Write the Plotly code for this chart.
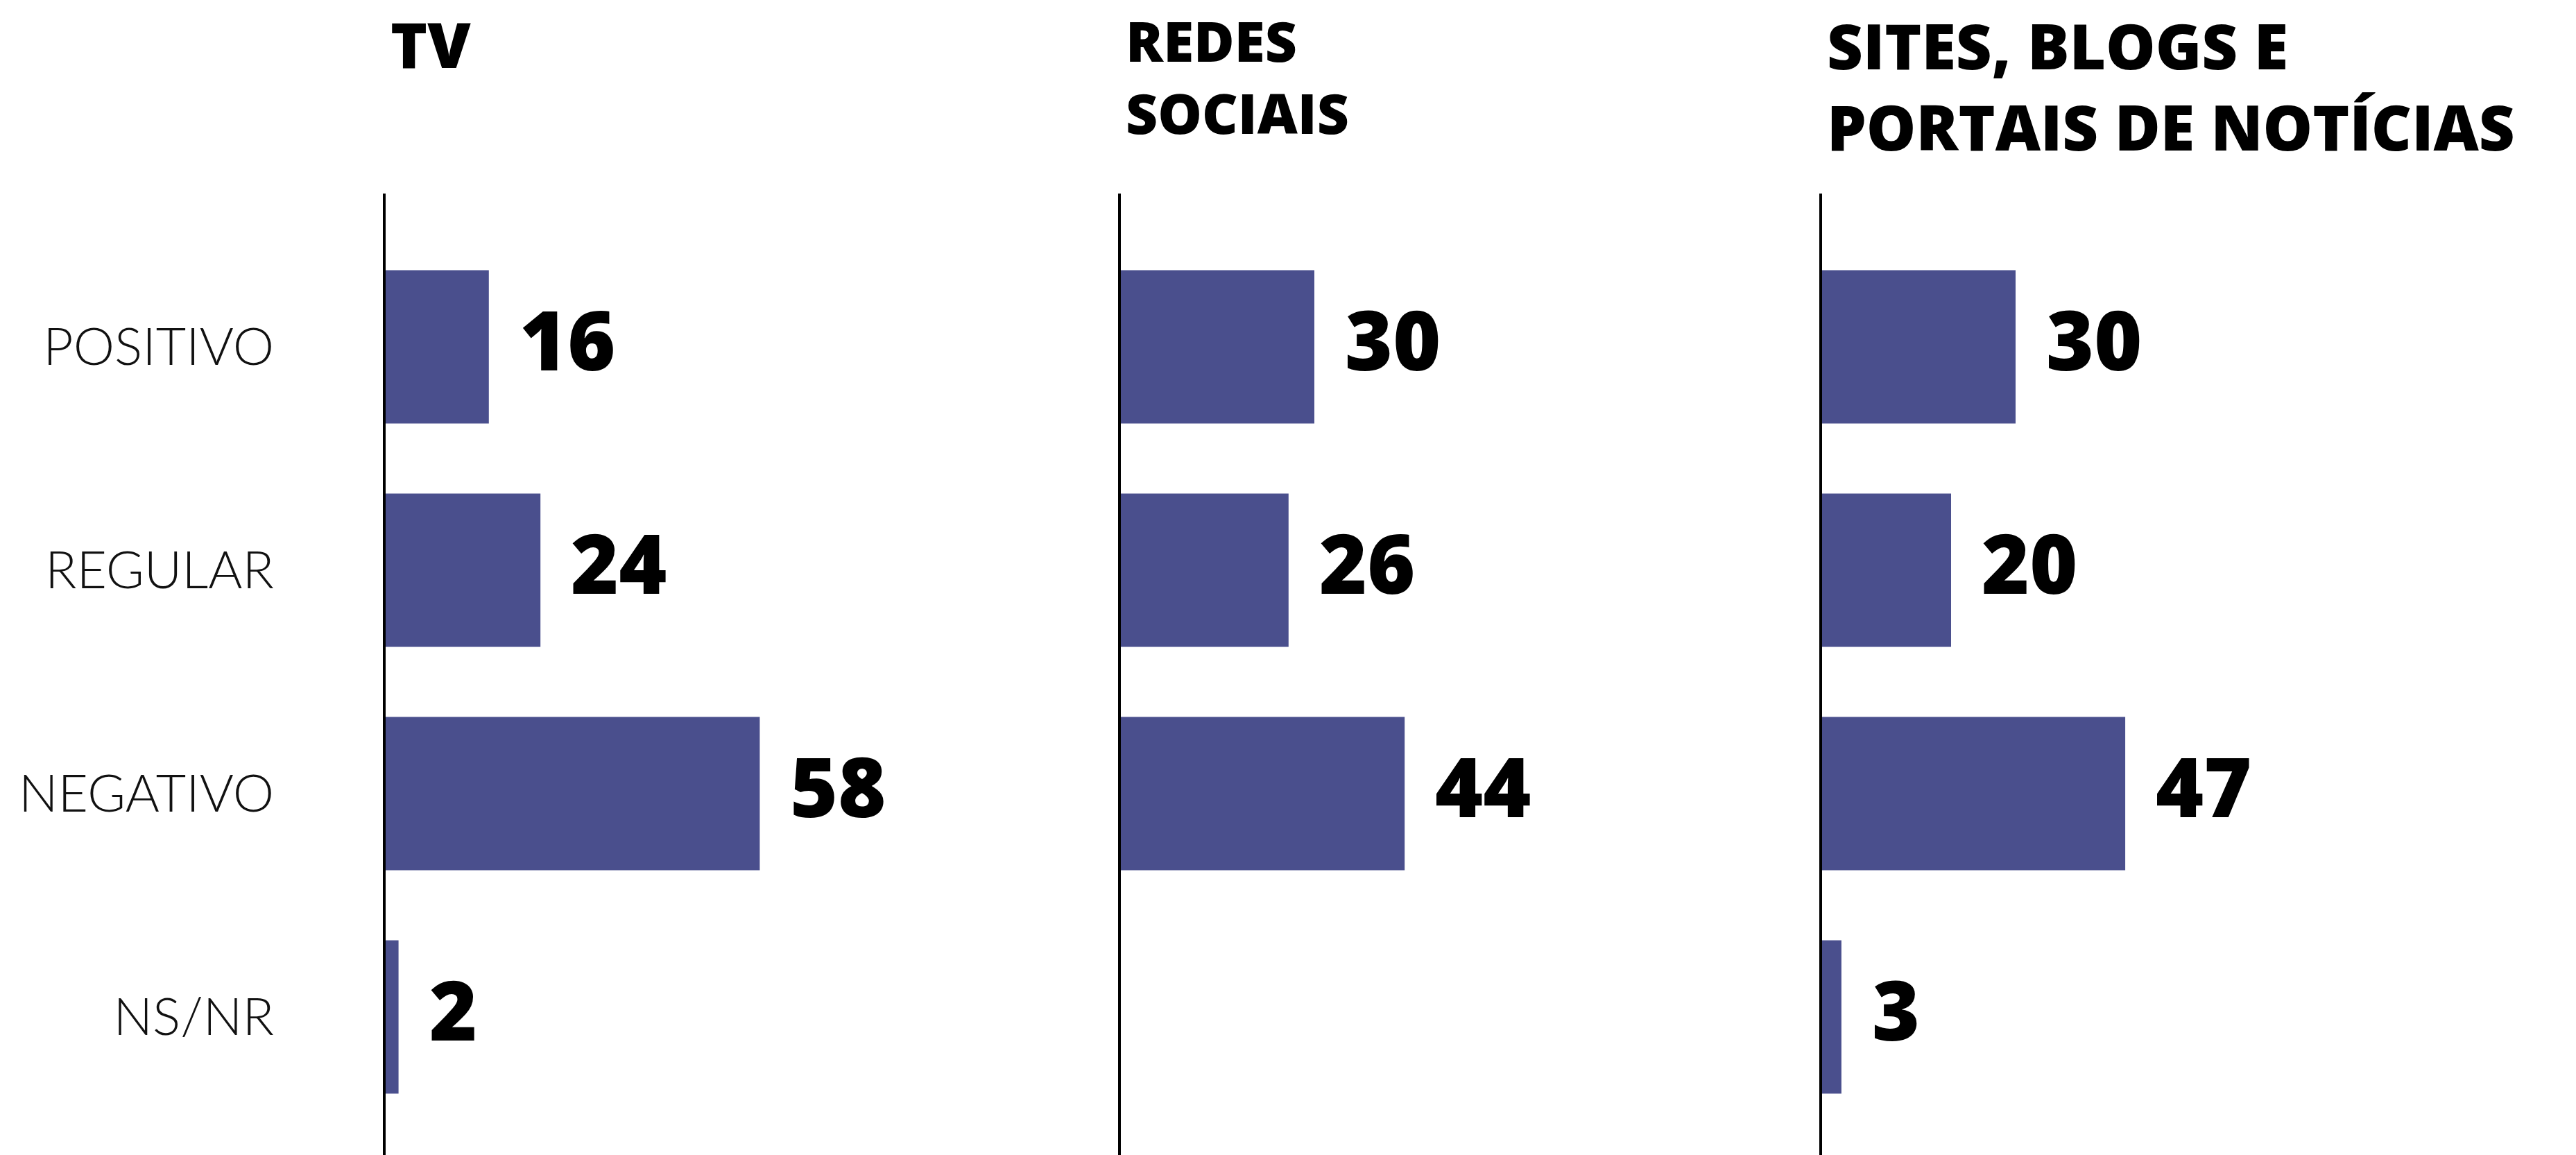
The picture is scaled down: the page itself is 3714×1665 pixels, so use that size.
import plotly.graph_objects as go

# ---------------- data ----------------
categories = ["POSITIVO", "REGULAR", "NEGATIVO", "NS/NR"]
tv_values = [16, 24, 58, 2]
redes_values = [30, 26, 44, None]
sites_values = [30, 20, 47, 3]
panel_values = [tv_values, redes_values, sites_values]
panel_titles = [["TV"], ["REDES", "SOCIAIS"], ["SITES, BLOGS E", "PORTAIS DE NOTÍCIAS"]]

# ---------------- style / layout ----------------
W, H = 3714, 1665
BAR_COLOR = "#4a4f8d"
axis_left_px = [556, 1616, 2627]     # left edge of each panel (axis line)
x_max = 60
px_per_unit = 9.3
plot_top_px = 279
cat_pitch = 322
first_center_px = 500
y_top = -(first_center_px - plot_top_px) / cat_pitch
y_bot = (len(categories) - 1) + (H - (first_center_px + (len(categories) - 1) * cat_pitch)) / cat_pitch

title_sizes = [90, 80, 90]
title_center_px = [63, 109, 123]

fig = go.Figure()
annotations = []
layout_axes = {}

for i, vals in enumerate(panel_values):
    n = "" if i == 0 else str(i + 1)
    xa = "x" + n
    ya = "y" + n
    fig.add_trace(go.Bar(
        x=vals, y=categories, orientation="h",
        marker=dict(color=BAR_COLOR, line=dict(width=0)),
        width=0.686, xaxis=xa, yaxis=ya, showlegend=False,
        hoverinfo="x+y",
    ))
    x0 = axis_left_px[i] / W
    x1 = (axis_left_px[i] + x_max * px_per_unit) / W
    layout_axes["xaxis" + n] = dict(
        domain=[x0, x1], range=[0, x_max], visible=False, anchor=ya,
        fixedrange=True,
    )
    layout_axes["yaxis" + n] = dict(
        domain=[0, 1 - plot_top_px / H], anchor=xa,
        type="category", categoryorder="array", categoryarray=categories,
        range=[y_bot, y_top],
        showline=True, linecolor="#000000", linewidth=4,
        showgrid=False, zeroline=False, ticks="",
        showticklabels=(i == 0),
        ticklabelstandoff=142,
        tickfont=dict(family="Lato", size=75, color="#111111", weight=300),
    )
    # value labels
    for c, v in zip(categories, vals):
        if v is None:
            continue
        annotations.append(dict(
            x=v, y=c, xref=xa, yref=ya, text=str(v), showarrow=False,
            xanchor="left", yanchor="middle", xshift=42, yshift=12,
            font=dict(family="Open Sans", size=118, color="#000000", weight=800),
        ))
    # panel title
    annotations.append(dict(
        x=axis_left_px[i] / W, y=1 - title_center_px[i] / H, xref="paper", yref="paper",
        text="<br>".join(panel_titles[i]), showarrow=False,
        xanchor="left", yanchor="middle", align="left", xshift=6, borderpad=0,
        font=dict(family="Open Sans", size=title_sizes[i], color="#000000", weight=800),
    ))

fig.update_layout(
    width=W, height=H,
    margin=dict(l=0, r=0, t=0, b=0),
    paper_bgcolor="#ffffff", plot_bgcolor="#ffffff",
    annotations=annotations,
    bargap=0.3,
    **layout_axes,
)

fig.write_html("out.html", config={"displayModeBar": False},
               post_script="document.body.style.margin='0';")
